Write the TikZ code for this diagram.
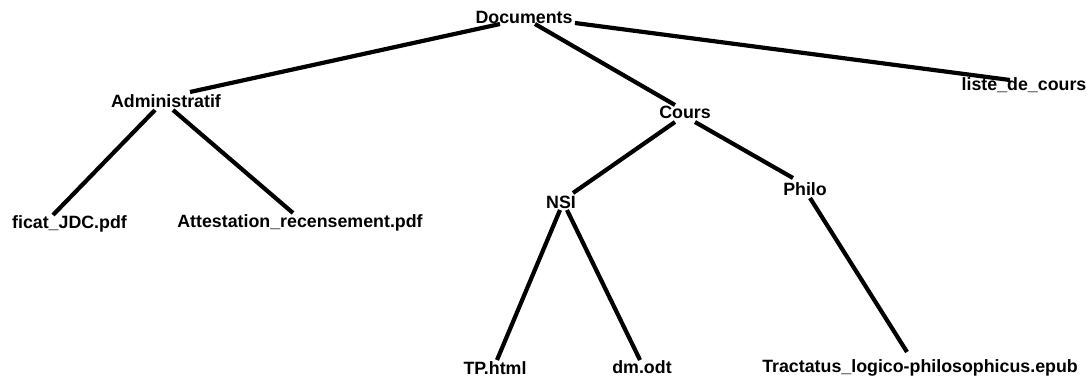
\documentclass[tikz,border=0pt]{standalone}
\usepackage{fontspec}
\setmainfont{Liberation Sans}
\begin{document}
\begin{tikzpicture}[x=1pt,y=-1pt,
  lbl/.style={anchor=base,inner sep=0pt,font=\bfseries\fontsize{17.8}{20}\selectfont},
  edge/.style={line width=4.2pt,black}]
\useasboundingbox (0,0) rectangle (1091,378);
\node[lbl] (doc) at (524,23) {Documents};
\node[lbl] (adm) at (166,107) {Administratif};
\node[lbl] (liste) at (1024,90) {liste\_de\_cours};
\node[lbl] (cours) at (685,118) {Cours};
\node[lbl] (ficat) at (69.5,228) {ficat\_JDC.pdf};
\node[lbl] (att) at (300,227) {Attestation\_recensement.pdf};
\node[lbl] (nsi) at (561,208) {NSI};
\node[lbl] (philo) at (805,195) {Philo};
\node[lbl] (tp) at (495,374) {TP.html};
\node[lbl] (dm) at (642,373) {dm.odt};
\node[lbl] (tract) at (920,372) {Tractatus\_logico-philosophicus.epub};
\draw[edge] ([shift={(-24,1)}]doc.base) -- ([shift={(24,-15)}]adm.base);
\draw[edge] ([shift={(11,1)}]doc.base) -- ([shift={(-10,-13)}]cours.base);
\draw[edge] ([shift={(51,0)}]doc.base) -- ([shift={(-14,-10)}]liste.base);
\draw[edge] ([shift={(-11,3)}]adm.base) -- ([shift={(-16.5,-13)}]ficat.base);
\draw[edge] ([shift={(7,3)}]adm.base) -- ([shift={(-7,-14)}]att.base);
\draw[edge] ([shift={(-10,4)}]cours.base) -- ([shift={(12,-15)}]nsi.base);
\draw[edge] ([shift={(10,4)}]cours.base) -- ([shift={(-12,-17)}]philo.base);
\draw[edge] ([shift={(-1,2)}]nsi.base) -- ([shift={(2,-14)}]tp.base);
\draw[edge] ([shift={(6,2)}]nsi.base) -- ([shift={(-2,-13)}]dm.base);
\draw[edge] ([shift={(5,3)}]philo.base) -- ([shift={(-13,-20)}]tract.base);
\end{tikzpicture}
\end{document}
